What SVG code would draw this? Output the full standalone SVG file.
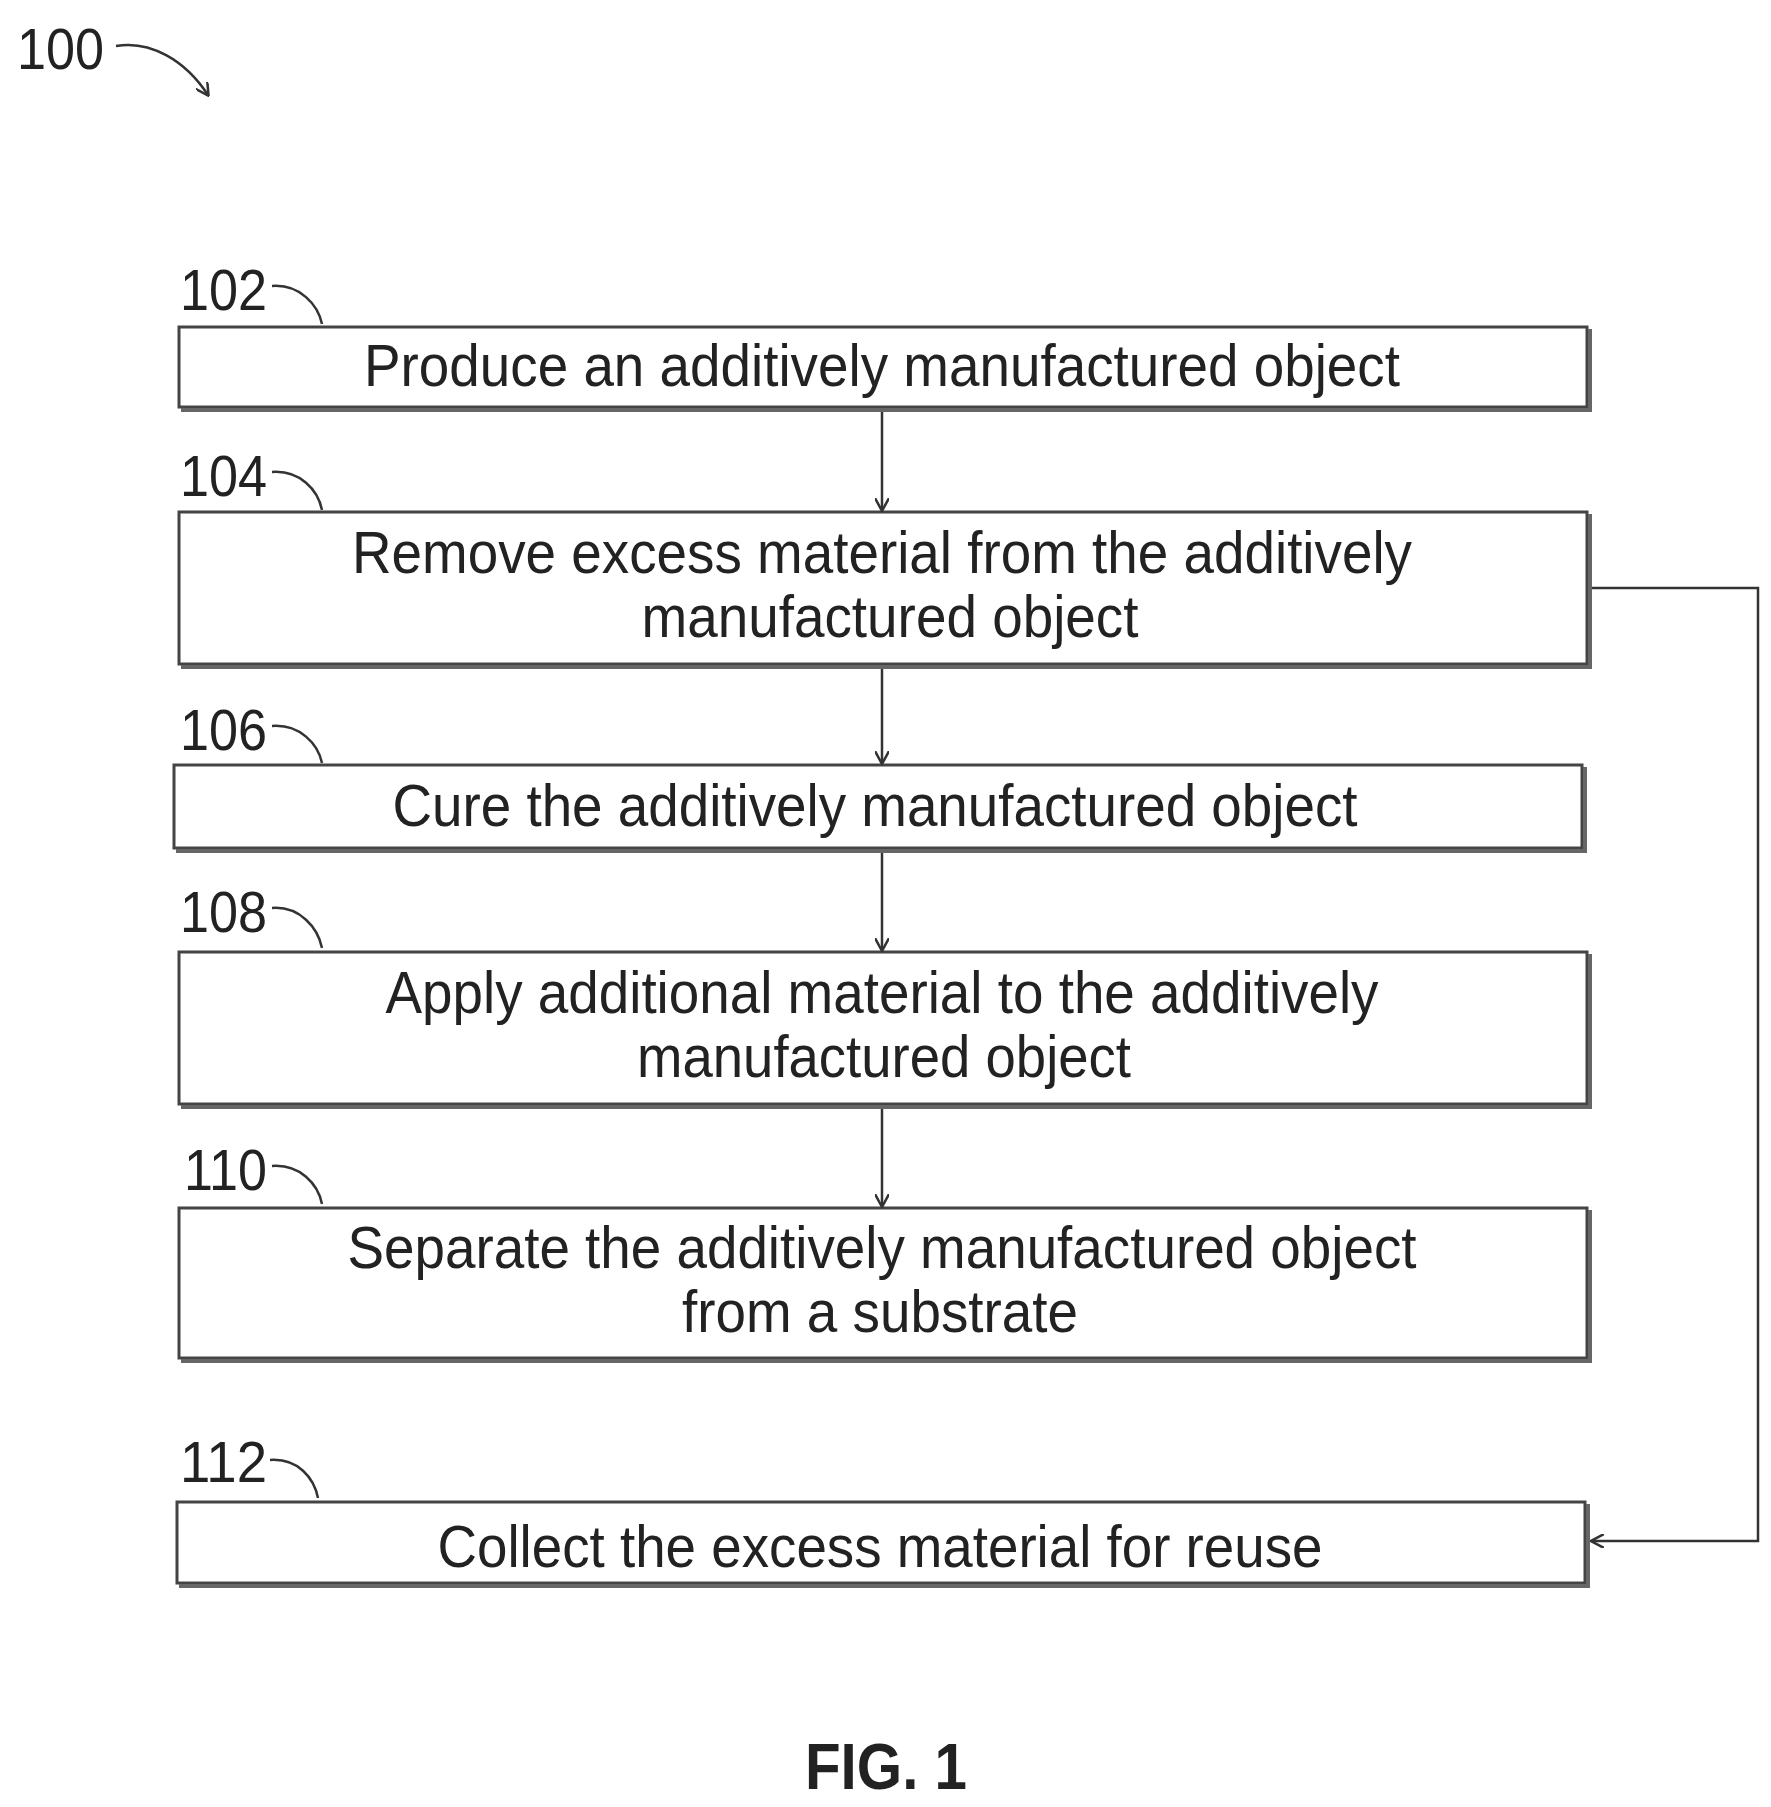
<svg xmlns="http://www.w3.org/2000/svg" width="1771" height="1807" viewBox="0 0 1771 1807">
<style>
.box{fill:#fff;stroke:#444;stroke-width:3}
.sh{fill:none;stroke:#666;stroke-width:4}
.t{font-family:"Liberation Sans",Arial,sans-serif;font-size:60px;fill:#222;text-anchor:middle}
.n{font-family:"Liberation Sans",Arial,sans-serif;font-size:58px;fill:#222}
.ld{fill:none;stroke:#333;stroke-width:2.5}
.c{fill:none;stroke:#333;stroke-width:2.5}
</style>
<defs><marker id="a" markerWidth="14" markerHeight="14" refX="12" refY="7" orient="auto" markerUnits="userSpaceOnUse"><path d="M0,0 L13,7 L0,14" fill="none" stroke="#333" stroke-width="2.5"/></marker></defs>
<rect width="1771" height="1807" fill="#fff"/>
<g id="label100"><text class="n" x="17" y="69" textLength="87" lengthAdjust="spacingAndGlyphs">100</text><path class="ld" d="M116,46 C150,40 185,60 208,95" marker-end="url(#a)"/></g>
<g id="n102"><rect class="box" x="179" y="327" width="1408" height="80"/><path class="sh" d="M181,410 H1590 V329"/><text class="n" x="180" y="310" textLength="87" lengthAdjust="spacingAndGlyphs">102</text><path class="ld" d="M272,286 C300,284 318,305 322,324"/><text class="t" x="882" y="386" textLength="1036" lengthAdjust="spacingAndGlyphs">Produce an additively manufactured object</text></g>
<g id="n104"><rect class="box" x="179" y="512" width="1408" height="152"/><path class="sh" d="M181,667 H1590 V514"/><text class="n" x="180" y="496" textLength="87" lengthAdjust="spacingAndGlyphs">104</text><path class="ld" d="M272,472 C300,470 318,490 322,510"/><text class="t" x="882" y="573" textLength="1060" lengthAdjust="spacingAndGlyphs">Remove excess material from the additively</text><text class="t" x="890" y="637" textLength="497" lengthAdjust="spacingAndGlyphs">manufactured object</text></g>
<g id="n106"><rect class="box" x="174" y="765" width="1408" height="83"/><path class="sh" d="M176,851 H1585 V767"/><text class="n" x="180" y="750" textLength="87" lengthAdjust="spacingAndGlyphs">106</text><path class="ld" d="M272,726 C300,724 318,744 322,763"/><text class="t" x="875" y="826" textLength="965" lengthAdjust="spacingAndGlyphs">Cure the additively manufactured object</text></g>
<g id="n108"><rect class="box" x="179" y="952" width="1408" height="152"/><path class="sh" d="M181,1107 H1590 V954"/><text class="n" x="180" y="932" textLength="87" lengthAdjust="spacingAndGlyphs">108</text><path class="ld" d="M272,908 C300,906 318,928 322,948"/><text class="t" x="882" y="1013" textLength="993" lengthAdjust="spacingAndGlyphs">Apply additional material to the additively</text><text class="t" x="884" y="1077" textLength="494" lengthAdjust="spacingAndGlyphs">manufactured object</text></g>
<g id="n110"><rect class="box" x="179" y="1208" width="1408" height="150"/><path class="sh" d="M181,1361 H1590 V1210"/><text class="n" x="184" y="1190" textLength="83" lengthAdjust="spacingAndGlyphs">110</text><path class="ld" d="M272,1166 C300,1164 318,1184 322,1204"/><text class="t" x="882" y="1268" textLength="1069" lengthAdjust="spacingAndGlyphs">Separate the additively manufactured object</text><text class="t" x="880" y="1332" textLength="396" lengthAdjust="spacingAndGlyphs">from a substrate</text></g>
<g id="n112"><rect class="box" x="177" y="1502" width="1408" height="81"/><path class="sh" d="M179,1586 H1588 V1504"/><text class="n" x="180" y="1482" textLength="87" lengthAdjust="spacingAndGlyphs">112</text><path class="ld" d="M270,1460 C298,1458 314,1478 318,1498"/><text class="t" x="880" y="1567" textLength="885" lengthAdjust="spacingAndGlyphs">Collect the excess material for reuse</text></g>
<g id="connectors">
<path class="c" d="M882,412 V510" marker-end="url(#a)"/>
<path class="c" d="M882,669 V763" marker-end="url(#a)"/>
<path class="c" d="M882,853 V950" marker-end="url(#a)"/>
<path class="c" d="M882,1109 V1206" marker-end="url(#a)"/>
<path class="c" d="M1592,588 H1758 V1541 H1592" marker-end="url(#a)"/>
</g>
<text x="886" y="1789" font-family="'Liberation Sans',Arial,sans-serif" font-size="64" font-weight="bold" fill="#222" text-anchor="middle" textLength="162" lengthAdjust="spacingAndGlyphs">FIG. 1</text>
</svg>
